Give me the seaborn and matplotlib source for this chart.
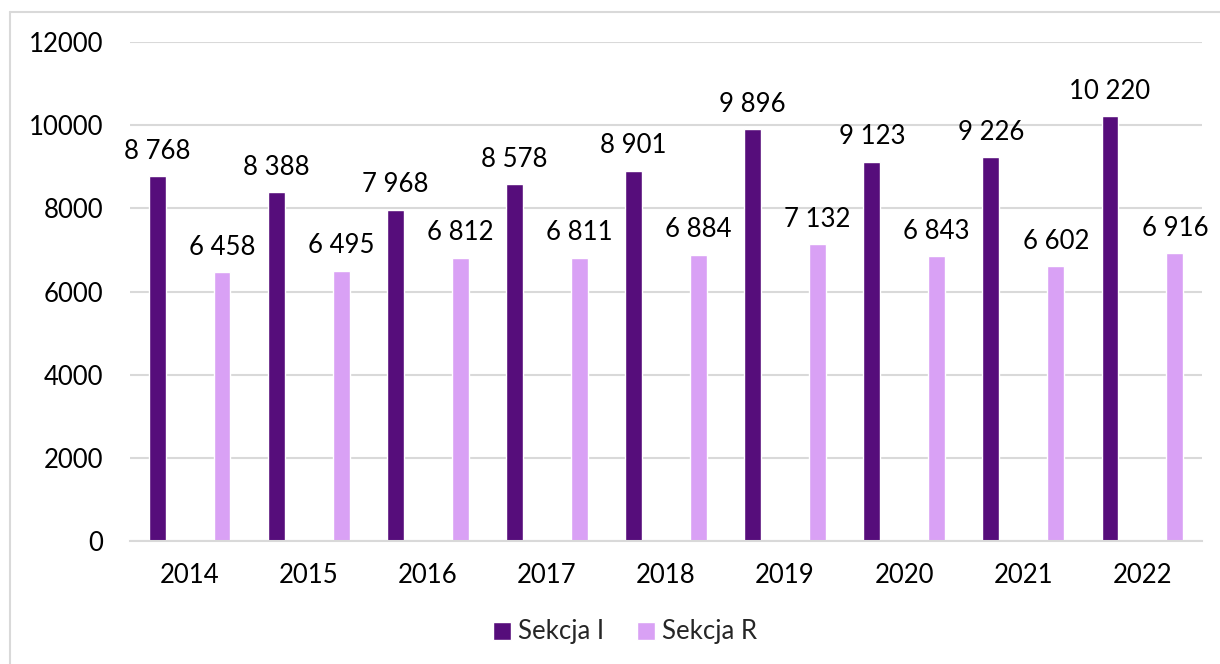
import matplotlib
matplotlib.use("Agg")
import matplotlib.pyplot as plt
from matplotlib.lines import Line2D
import pandas as pd
import seaborn as sns

years = ["2014", "2015", "2016", "2017", "2018", "2019", "2020", "2021", "2022"]
sekcja_i = [8768, 8388, 7968, 8578, 8901, 9896, 9123, 9226, 10220]
sekcja_r = [6458, 6495, 6812, 6811, 6884, 7132, 6843, 6602, 6916]
series_names = ["Sekcja I", "Sekcja R"]
y_ticks = [0, 2000, 4000, 6000, 8000, 10000, 12000]

df = pd.DataFrame({
    "rok": years * 2,
    "wartosc": sekcja_i + sekcja_r,
    "seria": [series_names[0]] * len(years) + [series_names[1]] * len(years),
})

sns.set_theme(style="white")
plt.rcParams["font.family"] = ["Lato", "DejaVu Sans"]

palette = {series_names[0]: "#560D7B", series_names[1]: "#D9A1F5"}
fs = 18.5

fig = plt.figure(figsize=(12.2, 6.64), dpi=100)
ax = fig.add_axes([130 / 1220, 1 - 541 / 664, (1202 - 130) / 1220, (541 - 42) / 664])

sns.barplot(data=df, x="rok", y="wartosc", hue="seria", order=years,
            hue_order=series_names, palette=palette, width=1.09, gap=0.74,
            saturation=1, ax=ax, legend=True)

ax.set_xlim(-0.5, len(years) - 0.5)
ax.set_ylim(0, 12000)
ax.set_yticks(y_ticks)
ax.set_yticklabels([str(v) for v in y_ticks])
ax.set_xlabel("")
ax.set_ylabel("")
ax.yaxis.grid(True, color="#D9D9D9", linewidth=1.5)
ax.set_axisbelow(True)
for side in ["top", "right", "left"]:
    ax.spines[side].set_visible(False)
ax.spines["bottom"].set_color("#D9D9D9")
ax.spines["bottom"].set_linewidth(1.5)
ax.tick_params(axis="x", length=0, pad=16, labelsize=fs, colors="black")
ax.tick_params(axis="y", length=0, pad=19, labelsize=fs, colors="black")

def fmt(v):
    return f"{v:,}".replace(",", " ")

for container in ax.containers:
    ax.bar_label(container, labels=[fmt(int(b.get_height())) for b in container],
                 padding=9, fontsize=fs, color="black")

handles, labels = ax.get_legend_handles_labels()
ax.legend(handles, labels, loc="center", bbox_to_anchor=(625 / 1220, 1 - 632 / 664),
          bbox_transform=fig.transFigure, ncol=2, frameon=False, fontsize=fs,
          handlelength=0.7, handleheight=0.7, handletextpad=0.25,
          columnspacing=1.3)

# thin frame along the top and left edges
fig.add_artist(Line2D([10 / 1220, 1.0], [1 - 12 / 664, 1 - 12 / 664],
                      transform=fig.transFigure, color="#D9D9D9", linewidth=1.5))
fig.add_artist(Line2D([10 / 1220, 10 / 1220], [0.0, 1 - 12 / 664],
                      transform=fig.transFigure, color="#D9D9D9", linewidth=1.5))

fig.savefig("out.png", dpi=100, facecolor="white")
